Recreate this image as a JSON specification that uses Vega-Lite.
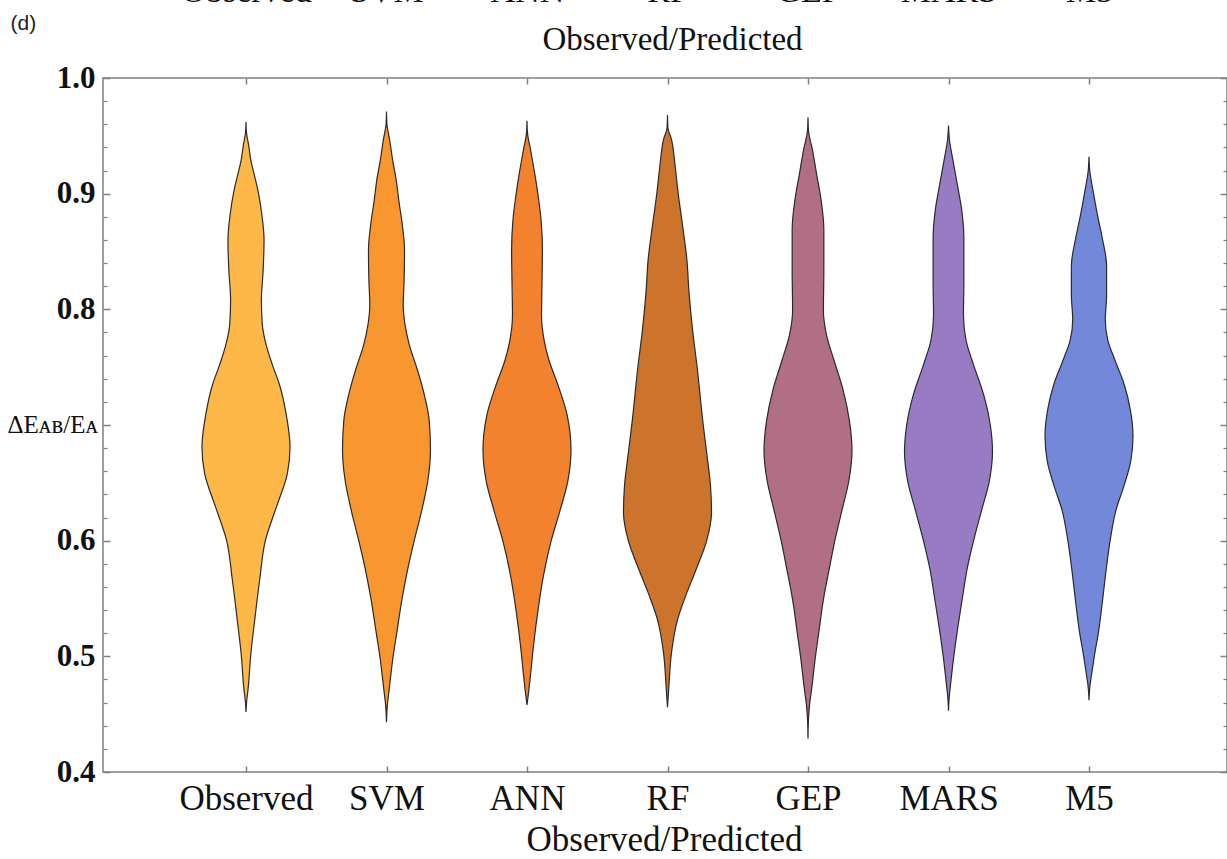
{
  "$schema": "https://vega.github.io/schema/vega-lite/v6.json",
  "width": 1124,
  "height": 694,
  "autosize": {"type": "none"},
  "padding": {"left": 103, "top": 78, "right": 0, "bottom": 87},
  "background": "white",
  "config": {
    "view": {"stroke": "#808080", "strokeWidth": 1.5},
    "axis": {"grid": false, "domain": false},
    "font": "Liberation Serif"
  },
  "datasets": {
    "violins": [
      {"model": "Observed", "v": 0.962, "d": 0},
      {"model": "Observed", "v": 0.953, "d": 0.01},
      {"model": "Observed", "v": 0.942, "d": 0.06},
      {"model": "Observed", "v": 0.929, "d": 0.11},
      {"model": "Observed", "v": 0.916, "d": 0.19},
      {"model": "Observed", "v": 0.903, "d": 0.27},
      {"model": "Observed", "v": 0.882, "d": 0.36},
      {"model": "Observed", "v": 0.86, "d": 0.41},
      {"model": "Observed", "v": 0.834, "d": 0.39},
      {"model": "Observed", "v": 0.808, "d": 0.35},
      {"model": "Observed", "v": 0.787, "d": 0.37},
      {"model": "Observed", "v": 0.769, "d": 0.46},
      {"model": "Observed", "v": 0.752, "d": 0.6},
      {"model": "Observed", "v": 0.735, "d": 0.76},
      {"model": "Observed", "v": 0.71, "d": 0.91},
      {"model": "Observed", "v": 0.681, "d": 1.0},
      {"model": "Observed", "v": 0.658, "d": 0.94},
      {"model": "Observed", "v": 0.629, "d": 0.69},
      {"model": "Observed", "v": 0.6, "d": 0.44},
      {"model": "Observed", "v": 0.566, "d": 0.31},
      {"model": "Observed", "v": 0.532, "d": 0.2},
      {"model": "Observed", "v": 0.502, "d": 0.11},
      {"model": "Observed", "v": 0.471, "d": 0.045},
      {"model": "Observed", "v": 0.462, "d": 0.017},
      {"model": "Observed", "v": 0.452, "d": 0},

      {"model": "SVM", "v": 0.971, "d": 0},
      {"model": "SVM", "v": 0.96, "d": 0.01},
      {"model": "SVM", "v": 0.947, "d": 0.07},
      {"model": "SVM", "v": 0.929, "d": 0.14},
      {"model": "SVM", "v": 0.912, "d": 0.22},
      {"model": "SVM", "v": 0.894, "d": 0.28},
      {"model": "SVM", "v": 0.873, "d": 0.36},
      {"model": "SVM", "v": 0.851, "d": 0.41},
      {"model": "SVM", "v": 0.825, "d": 0.4},
      {"model": "SVM", "v": 0.804, "d": 0.38},
      {"model": "SVM", "v": 0.787, "d": 0.42},
      {"model": "SVM", "v": 0.769, "d": 0.52},
      {"model": "SVM", "v": 0.748, "d": 0.7},
      {"model": "SVM", "v": 0.726, "d": 0.86},
      {"model": "SVM", "v": 0.704, "d": 0.97},
      {"model": "SVM", "v": 0.678, "d": 1.0},
      {"model": "SVM", "v": 0.652, "d": 0.94},
      {"model": "SVM", "v": 0.626, "d": 0.8},
      {"model": "SVM", "v": 0.6, "d": 0.63},
      {"model": "SVM", "v": 0.575, "d": 0.48},
      {"model": "SVM", "v": 0.549, "d": 0.35},
      {"model": "SVM", "v": 0.522, "d": 0.24},
      {"model": "SVM", "v": 0.497, "d": 0.14},
      {"model": "SVM", "v": 0.471, "d": 0.06},
      {"model": "SVM", "v": 0.458, "d": 0.02},
      {"model": "SVM", "v": 0.443, "d": 0},

      {"model": "ANN", "v": 0.963, "d": 0},
      {"model": "ANN", "v": 0.953, "d": 0.01},
      {"model": "ANN", "v": 0.938, "d": 0.08},
      {"model": "ANN", "v": 0.921, "d": 0.16},
      {"model": "ANN", "v": 0.899, "d": 0.25},
      {"model": "ANN", "v": 0.877, "d": 0.32},
      {"model": "ANN", "v": 0.851, "d": 0.35},
      {"model": "ANN", "v": 0.821, "d": 0.34},
      {"model": "ANN", "v": 0.795, "d": 0.33},
      {"model": "ANN", "v": 0.773, "d": 0.39},
      {"model": "ANN", "v": 0.756, "d": 0.5},
      {"model": "ANN", "v": 0.735, "d": 0.7},
      {"model": "ANN", "v": 0.709, "d": 0.91},
      {"model": "ANN", "v": 0.678, "d": 1.0},
      {"model": "ANN", "v": 0.652, "d": 0.93},
      {"model": "ANN", "v": 0.626, "d": 0.75},
      {"model": "ANN", "v": 0.6, "d": 0.55},
      {"model": "ANN", "v": 0.57, "d": 0.375},
      {"model": "ANN", "v": 0.54, "d": 0.25},
      {"model": "ANN", "v": 0.51, "d": 0.15},
      {"model": "ANN", "v": 0.484, "d": 0.08},
      {"model": "ANN", "v": 0.467, "d": 0.03},
      {"model": "ANN", "v": 0.458, "d": 0},

      {"model": "RF", "v": 0.968, "d": 0},
      {"model": "RF", "v": 0.957, "d": 0.01},
      {"model": "RF", "v": 0.947, "d": 0.09},
      {"model": "RF", "v": 0.925, "d": 0.17},
      {"model": "RF", "v": 0.901, "d": 0.24},
      {"model": "RF", "v": 0.873, "d": 0.34},
      {"model": "RF", "v": 0.843, "d": 0.44},
      {"model": "RF", "v": 0.814, "d": 0.49},
      {"model": "RF", "v": 0.782, "d": 0.57},
      {"model": "RF", "v": 0.748, "d": 0.68},
      {"model": "RF", "v": 0.704, "d": 0.8},
      {"model": "RF", "v": 0.676, "d": 0.89},
      {"model": "RF", "v": 0.646, "d": 0.98},
      {"model": "RF", "v": 0.624, "d": 1.0},
      {"model": "RF", "v": 0.6, "d": 0.89},
      {"model": "RF", "v": 0.575, "d": 0.65},
      {"model": "RF", "v": 0.551, "d": 0.4},
      {"model": "RF", "v": 0.532, "d": 0.23},
      {"model": "RF", "v": 0.503, "d": 0.09},
      {"model": "RF", "v": 0.473, "d": 0.03},
      {"model": "RF", "v": 0.456, "d": 0},

      {"model": "GEP", "v": 0.966, "d": 0},
      {"model": "GEP", "v": 0.955, "d": 0.01},
      {"model": "GEP", "v": 0.938, "d": 0.1},
      {"model": "GEP", "v": 0.916, "d": 0.2},
      {"model": "GEP", "v": 0.894, "d": 0.3},
      {"model": "GEP", "v": 0.869, "d": 0.36},
      {"model": "GEP", "v": 0.834, "d": 0.36},
      {"model": "GEP", "v": 0.799, "d": 0.35},
      {"model": "GEP", "v": 0.778, "d": 0.42},
      {"model": "GEP", "v": 0.756, "d": 0.59},
      {"model": "GEP", "v": 0.73, "d": 0.8},
      {"model": "GEP", "v": 0.704, "d": 0.94},
      {"model": "GEP", "v": 0.678, "d": 1.0},
      {"model": "GEP", "v": 0.652, "d": 0.93},
      {"model": "GEP", "v": 0.626, "d": 0.77},
      {"model": "GEP", "v": 0.6, "d": 0.61},
      {"model": "GEP", "v": 0.575, "d": 0.48},
      {"model": "GEP", "v": 0.549, "d": 0.35},
      {"model": "GEP", "v": 0.522, "d": 0.25},
      {"model": "GEP", "v": 0.497, "d": 0.16},
      {"model": "GEP", "v": 0.471, "d": 0.08},
      {"model": "GEP", "v": 0.458, "d": 0.035},
      {"model": "GEP", "v": 0.445, "d": 0.01},
      {"model": "GEP", "v": 0.429, "d": 0},

      {"model": "MARS", "v": 0.959, "d": 0},
      {"model": "MARS", "v": 0.947, "d": 0.02},
      {"model": "MARS", "v": 0.929, "d": 0.1},
      {"model": "MARS", "v": 0.908, "d": 0.2},
      {"model": "MARS", "v": 0.886, "d": 0.3},
      {"model": "MARS", "v": 0.86, "d": 0.35},
      {"model": "MARS", "v": 0.825, "d": 0.35},
      {"model": "MARS", "v": 0.795, "d": 0.34},
      {"model": "MARS", "v": 0.773, "d": 0.4},
      {"model": "MARS", "v": 0.752, "d": 0.57},
      {"model": "MARS", "v": 0.726, "d": 0.8},
      {"model": "MARS", "v": 0.7, "d": 0.95},
      {"model": "MARS", "v": 0.677, "d": 1.0},
      {"model": "MARS", "v": 0.652, "d": 0.93},
      {"model": "MARS", "v": 0.626, "d": 0.75},
      {"model": "MARS", "v": 0.6, "d": 0.57},
      {"model": "MARS", "v": 0.575, "d": 0.42},
      {"model": "MARS", "v": 0.549, "d": 0.31},
      {"model": "MARS", "v": 0.522, "d": 0.2},
      {"model": "MARS", "v": 0.497, "d": 0.11},
      {"model": "MARS", "v": 0.475, "d": 0.045},
      {"model": "MARS", "v": 0.465, "d": 0.017},
      {"model": "MARS", "v": 0.453, "d": 0},

      {"model": "M5", "v": 0.932, "d": 0},
      {"model": "M5", "v": 0.919, "d": 0.02},
      {"model": "M5", "v": 0.903, "d": 0.09},
      {"model": "M5", "v": 0.882, "d": 0.19},
      {"model": "M5", "v": 0.86, "d": 0.31},
      {"model": "M5", "v": 0.838, "d": 0.4},
      {"model": "M5", "v": 0.812, "d": 0.4},
      {"model": "M5", "v": 0.791, "d": 0.37},
      {"model": "M5", "v": 0.773, "d": 0.43},
      {"model": "M5", "v": 0.756, "d": 0.59},
      {"model": "M5", "v": 0.735, "d": 0.8},
      {"model": "M5", "v": 0.713, "d": 0.94},
      {"model": "M5", "v": 0.691, "d": 1.0},
      {"model": "M5", "v": 0.669, "d": 0.95},
      {"model": "M5", "v": 0.648, "d": 0.8},
      {"model": "M5", "v": 0.626, "d": 0.61},
      {"model": "M5", "v": 0.6, "d": 0.48},
      {"model": "M5", "v": 0.575, "d": 0.39},
      {"model": "M5", "v": 0.549, "d": 0.31},
      {"model": "M5", "v": 0.522, "d": 0.22},
      {"model": "M5", "v": 0.501, "d": 0.125},
      {"model": "M5", "v": 0.484, "d": 0.057},
      {"model": "M5", "v": 0.475, "d": 0.023},
      {"model": "M5", "v": 0.462, "d": 0}
    ]
  },
  "data": {"name": "violins"},
  "layer": [
    {
      "mark": {"type": "point", "opacity": 0},
      "encoding": {
        "x": {
          "field": "model", "type": "nominal",
          "scale": {"type": "point", "domain": ["Observed", "SVM", "ANN", "RF", "GEP", "MARS", "M5"], "range": [143, 986], "padding": 0},
          "axis": {
            "orient": "bottom", "domain": false, "ticks": true, "tickSize": -6, "tickColor": "#808080", "tickWidth": 1.5,
            "labelFont": "Liberation Serif", "labelFontSize": 35, "labelColor": "#111111", "labelAngle": 0,
            "labelBaseline": "alphabetic", "labelPadding": 43, "labelOverlap": false,
            "title": "Observed/Predicted", "titleFont": "Liberation Serif", "titleFontSize": 35, "titleFontWeight": "normal",
            "titleColor": "#111111", "titleX": 561, "titleY": 78, "titleAlign": "center", "titleBaseline": "alphabetic"
          }
        },
        "y": {
          "field": "v", "type": "quantitative",
          "scale": {"domain": [0.4, 1.0], "nice": false, "zero": false},
          "axis": {
            "orient": "left", "values": [0.4, 0.5, 0.6, 0.7, 0.8, 0.9, 1.0],
            "tickSize": -7, "tickColor": "#808080", "tickWidth": 1.5,
            "labelExpr": "abs(datum.value - 0.7) < 0.001 ? '' : format(datum.value, '.1f')",
            "labelFont": "Liberation Serif", "labelFontSize": 31, "labelFontWeight": "bold", "labelColor": "#111111",
            "labelPadding": 15, "labelFlush": false, "labelOverlap": false,
            "title": "ΔEᴀʙ/Eᴀ", "titleAngle": 0, "titleAlign": "left", "titleBaseline": "alphabetic",
            "titleX": -96, "titleY": 354, "titleFont": "Liberation Serif", "titleFontSize": 25,
            "titleFontWeight": "normal", "titleColor": "#111111"
          }
        }
      }
    },
    {
      "mark": {"type": "point", "opacity": 0},
      "encoding": {
        "x": {
          "field": "model", "type": "nominal",
          "scale": {"type": "point", "domain": ["Observed", "SVM", "ANN", "RF", "GEP", "MARS", "M5"], "range": [143, 986], "padding": 0},
          "axis": {
            "orient": "top", "domain": false, "ticks": true, "tickSize": -6, "tickColor": "#808080", "tickWidth": 1.5,
            "labelFont": "Liberation Serif", "labelFontSize": 34, "labelColor": "#111111", "labelAngle": 0,
            "labelBaseline": "alphabetic", "labelPadding": 83, "labelOverlap": false,
            "title": "Observed/Predicted", "titleFont": "Liberation Serif", "titleFontSize": 33, "titleFontWeight": "normal",
            "titleColor": "#111111", "titleX": 569, "titleY": -29, "titleAlign": "center", "titleBaseline": "alphabetic"
          }
        },
        "y": {
          "field": "v", "type": "quantitative",
          "scale": {"domain": [0.4, 1.0], "nice": false, "zero": false},
          "axis": {
            "orient": "right", "values": [0.4, 0.5, 0.6, 0.7, 0.8, 0.9, 1.0],
            "tickSize": -7, "tickColor": "#808080", "tickWidth": 1.5, "labels": false, "title": null
          }
        }
      }
    },
    {
      "transform": [{"filter": "datum.model === 'Observed'"}],
      "mark": {"type": "area", "orient": "horizontal", "interpolate": "monotone", "fill": "#FDB848", "fillOpacity": 1, "stroke": "#2b2b2b", "strokeWidth": 1.2},
      "encoding": {
        "y": {
          "field": "v", "type": "quantitative",
          "scale": {"domain": [0.4, 1.0], "nice": false, "zero": false},
          "axis": {
            "orient": "left",
            "values": [0.42, 0.44, 0.46, 0.48, 0.52, 0.54, 0.56, 0.58, 0.62, 0.64, 0.66, 0.68, 0.72, 0.74, 0.76, 0.78, 0.82, 0.84, 0.86, 0.88, 0.92, 0.94, 0.96, 0.98],
            "tickSize": -4, "tickColor": "#808080", "tickWidth": 1.2, "labels": false,
            "title": "(d)", "titleAngle": 0, "titleAlign": "left", "titleBaseline": "alphabetic",
            "titleX": -93, "titleY": -49, "titleFont": "Liberation Sans", "titleFontSize": 21,
            "titleFontWeight": "normal", "titleColor": "#222222"
          }
        },
        "x": {"field": "d", "type": "quantitative", "stack": "center", "impute": null, "scale": {"domain": [-1.125, 11.648], "nice": false, "zero": false}, "axis": null}
      }
    },
    {
      "transform": [{"filter": "datum.model === 'SVM'"}],
      "mark": {"type": "area", "orient": "horizontal", "interpolate": "monotone", "fill": "#F8962F", "fillOpacity": 1, "stroke": "#2b2b2b", "strokeWidth": 1.2},
      "encoding": {
        "y": {
          "field": "v", "type": "quantitative",
          "scale": {"domain": [0.4, 1.0], "nice": false, "zero": false},
          "axis": {
            "orient": "right",
            "values": [0.42, 0.44, 0.46, 0.48, 0.52, 0.54, 0.56, 0.58, 0.62, 0.64, 0.66, 0.68, 0.72, 0.74, 0.76, 0.78, 0.82, 0.84, 0.86, 0.88, 0.92, 0.94, 0.96, 0.98],
            "tickSize": -4, "tickColor": "#808080", "tickWidth": 1.2, "labels": false, "title": null
          }
        },
        "x": {"field": "d", "type": "quantitative", "stack": "center", "impute": null, "scale": {"domain": [-2.7216, 10.0511], "nice": false, "zero": false}, "axis": null}
      }
    },
    {
      "transform": [{"filter": "datum.model === 'ANN'"}],
      "mark": {"type": "area", "orient": "horizontal", "interpolate": "monotone", "fill": "#F2822E", "fillOpacity": 1, "stroke": "#2b2b2b", "strokeWidth": 1.2},
      "encoding": {
        "y": {"field": "v", "type": "quantitative", "scale": {"domain": [0.4, 1.0], "nice": false, "zero": false}, "axis": null},
        "x": {"field": "d", "type": "quantitative", "stack": "center", "impute": null, "scale": {"domain": [-4.3182, 8.4545], "nice": false, "zero": false}, "axis": null}
      }
    },
    {
      "transform": [{"filter": "datum.model === 'RF'"}],
      "mark": {"type": "area", "orient": "horizontal", "interpolate": "monotone", "fill": "#CD742C", "fillOpacity": 1, "stroke": "#2b2b2b", "strokeWidth": 1.2},
      "encoding": {
        "y": {"field": "v", "type": "quantitative", "scale": {"domain": [0.4, 1.0], "nice": false, "zero": false}, "axis": null},
        "x": {"field": "d", "type": "quantitative", "stack": "center", "impute": null, "scale": {"domain": [-5.9148, 6.858], "nice": false, "zero": false}, "axis": null}
      }
    },
    {
      "transform": [{"filter": "datum.model === 'GEP'"}],
      "mark": {"type": "area", "orient": "horizontal", "interpolate": "monotone", "fill": "#B06F84", "fillOpacity": 1, "stroke": "#2b2b2b", "strokeWidth": 1.2},
      "encoding": {
        "y": {"field": "v", "type": "quantitative", "scale": {"domain": [0.4, 1.0], "nice": false, "zero": false}, "axis": null},
        "x": {"field": "d", "type": "quantitative", "stack": "center", "impute": null, "scale": {"domain": [-7.5114, 5.2614], "nice": false, "zero": false}, "axis": null}
      }
    },
    {
      "transform": [{"filter": "datum.model === 'MARS'"}],
      "mark": {"type": "area", "orient": "horizontal", "interpolate": "monotone", "fill": "#977BC3", "fillOpacity": 1, "stroke": "#2b2b2b", "strokeWidth": 1.2},
      "encoding": {
        "y": {"field": "v", "type": "quantitative", "scale": {"domain": [0.4, 1.0], "nice": false, "zero": false}, "axis": null},
        "x": {"field": "d", "type": "quantitative", "stack": "center", "impute": null, "scale": {"domain": [-9.108, 3.6648], "nice": false, "zero": false}, "axis": null}
      }
    },
    {
      "transform": [{"filter": "datum.model === 'M5'"}],
      "mark": {"type": "area", "orient": "horizontal", "interpolate": "monotone", "fill": "#7388D9", "fillOpacity": 1, "stroke": "#2b2b2b", "strokeWidth": 1.2},
      "encoding": {
        "y": {"field": "v", "type": "quantitative", "scale": {"domain": [0.4, 1.0], "nice": false, "zero": false}, "axis": null},
        "x": {"field": "d", "type": "quantitative", "stack": "center", "impute": null, "scale": {"domain": [-10.7045, 2.0682], "nice": false, "zero": false}, "axis": null}
      }
    }
  ],
  "resolve": {"scale": {"x": "independent", "y": "independent"}}
}
